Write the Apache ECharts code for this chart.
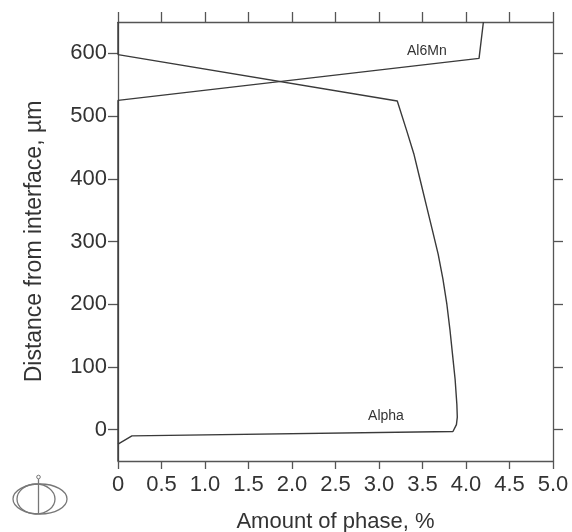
<!DOCTYPE html>
<html>
<head>
<meta charset="utf-8">
<script src="https://cdn.jsdelivr.net/npm/echarts@6/dist/echarts.min.js"></script>
<style>html,body{margin:0;padding:0;background:#fff;}#c{width:572px;height:532px;}</style>
</head>
<body>
<div id="c"></div>
<script>
// Alpha phase: [amount %, distance µm]
const alphaAmount   = [0,   0,   3.21, 3.32, 3.40, 3.47, 3.54, 3.61, 3.68, 3.735, 3.78, 3.815, 3.845, 3.875, 3.895, 3.90, 3.89, 3.85, 0.16, 0];
const alphaDistance = [650, 598, 524,  476,  440,  400,  360,  320,  280,  240,   200,  160,   120,   80,    40,    20,   8,    -3,   -10,  -23];
// Al6Mn phase
const al6mnAmount   = [0,   0,   4.15, 4.20];
const al6mnDistance = [-50, 525, 592,  650];
const xTicks = [0, 0.5, 1.0, 1.5, 2.0, 2.5, 3.0, 3.5, 4.0, 4.5, 5.0];
const yTicks = [0, 100, 200, 300, 400, 500, 600];
const labelAl6Mn = {text: 'Al6Mn', x: 3.55, y: 603};
const labelAlpha = {text: 'Alpha', x: 3.08, y: 21};

const pair = (a, b) => a.map((v, i) => [v, b[i]]);
const FONT = '"Liberation Sans", Arial, sans-serif';
const AX = '#555';
const TXT = '#333';

const chart = echarts.init(document.getElementById('c'), null, {renderer: 'canvas'});
const xBase = {
  type: 'value', min: 0, max: 5, interval: 0.5,
  splitLine: {show: false},
  axisLine: {show: true, onZero: false, lineStyle: {color: AX, width: 1.3}},
};
const yBase = {
  type: 'value', min: -50, max: 650, interval: 50,
  splitLine: {show: false},
  axisLine: {show: true, onZero: false, lineStyle: {color: AX, width: 1.3}},
};
chart.setOption({
  animation: false,
  backgroundColor: '#fff',
  grid: {left: 118, top: 22, width: 435, height: 439, containLabel: false, outerBoundsMode: 'none'},
  xAxis: [
    Object.assign({}, xBase, {
      position: 'bottom',
      name: 'Amount of phase, %', nameLocation: 'middle', nameGap: 50,
      nameTextStyle: {fontFamily: FONT, fontSize: 22, color: TXT},
      axisTick: {show: true, length: 8, inside: false, lineStyle: {color: AX, width: 1.3}},
      axisLabel: {fontFamily: FONT, fontSize: 22, color: TXT, margin: 13,
        formatter: v => v === 0 ? '0' : v.toFixed(1)}
    }),
    Object.assign({}, xBase, {
      position: 'top',
      axisTick: {show: true, length: 10, inside: false, lineStyle: {color: AX, width: 1.3}},
      axisLabel: {show: false}
    })
  ],
  yAxis: [
    Object.assign({}, yBase, {
      position: 'left',
      name: 'Distance from interface, µm', nameLocation: 'middle', nameGap: 72, nameRotate: 90,
      nameTextStyle: {fontFamily: FONT, fontSize: 23, color: TXT},
      axisTick: {show: true, length: 10, customValues: yTicks, lineStyle: {color: AX, width: 1.3}},
      axisLabel: {fontFamily: FONT, fontSize: 22, color: TXT, margin: 11, customValues: yTicks}
    }),
    Object.assign({}, yBase, {
      position: 'right',
      axisTick: {show: true, length: 10, customValues: yTicks, lineStyle: {color: AX, width: 1.3}},
      axisLabel: {show: false, customValues: yTicks}
    })
  ],
  series: [
    {
      name: 'Alpha', type: 'line', xAxisIndex: 0, yAxisIndex: 0,
      data: pair(alphaAmount, alphaDistance),
      showSymbol: false, symbol: 'none',
      lineStyle: {color: '#3a3a3a', width: 1.4},
      markPoint: {
        symbol: 'circle', symbolSize: 0,
        label: {show: true, position: 'inside', fontFamily: FONT, fontSize: 14, color: TXT, formatter: '{b}'},
        data: [{name: labelAlpha.text, coord: [labelAlpha.x, labelAlpha.y]}]
      }
    },
    {
      name: 'Al6Mn', type: 'line', xAxisIndex: 0, yAxisIndex: 0,
      data: pair(al6mnAmount, al6mnDistance),
      showSymbol: false, symbol: 'none',
      lineStyle: {color: '#3a3a3a', width: 1.4},
      markPoint: {
        symbol: 'circle', symbolSize: 0,
        label: {show: true, position: 'inside', fontFamily: FONT, fontSize: 14, color: TXT, formatter: '{b}'},
        data: [{name: labelAl6Mn.text, coord: [labelAl6Mn.x, labelAl6Mn.y]}]
      }
    }
  ],
  graphic: [
    {type: 'ellipse', shape: {cx: 40, cy: 499, rx: 27, ry: 15}, style: {fill: 'none', stroke: '#777', lineWidth: 1.3}},
    {type: 'ellipse', shape: {cx: 36, cy: 499, rx: 19, ry: 15}, style: {fill: 'none', stroke: '#777', lineWidth: 1.3}},
    {type: 'line', shape: {x1: 38.5, y1: 479, x2: 38.5, y2: 514}, style: {stroke: '#777', lineWidth: 1.3}},
    {type: 'circle', shape: {cx: 38.5, cy: 477, r: 1.8}, style: {fill: 'none', stroke: '#777', lineWidth: 1}}
  ]
});
</script>
</body>
</html>
